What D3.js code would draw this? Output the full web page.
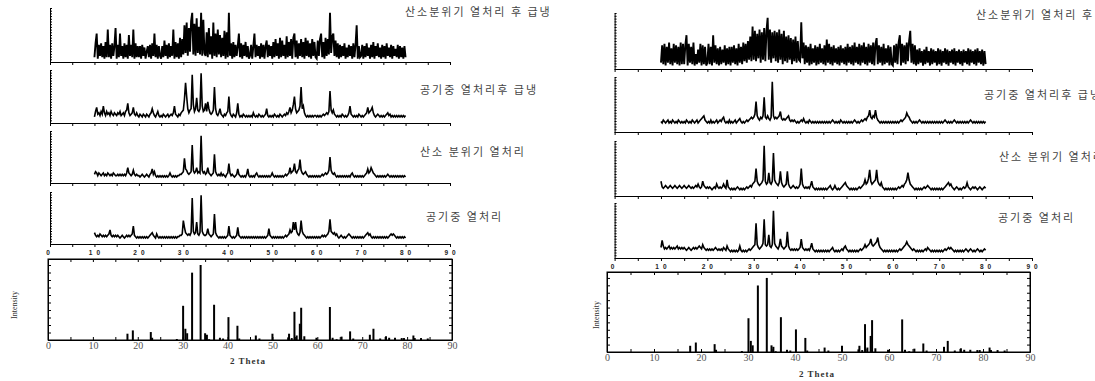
<!DOCTYPE html>
<html>
<head>
<meta charset="utf-8">
<script src="https://d3js.org/d3.v7.min.js"></script>
<style>
  body { margin: 0; background: #fff; }
  svg { display: block; }
</style>
</head>
<body>
<svg id="chart" width="1095" height="381"></svg>
<script>
// ---- data ----------------------------------------------------------------
// each pattern is a run of intensity levels (base-36 chars, 0..35),
// one char per 0.25 deg of 2-theta from 10 to 80
const thetaRange = [10, 80];

const leftO2Quench = [
  "2cj1b3c2a1d2m2b1c3an", "1b2j3a1c2b1i3b2m1c2a", "2a1b3916a2b1c3j2b1a3",
  "1a2e3b1c2a3m1d2c1g2f", "4p5r3n6sy4q3u5o4y3t5", "3k2n4h1r3j2m4i2g3l1k",
  "2y3c1d2b3aj2c1b3d2a1", "3b1aj2b3a1c2b1ae2b3a", "1d2f3c1g2e3b1h2d3f1g",
  "j2e1c3f2d1g3e2c1f3d2", "1e3fj2d1g3f4y5hj3e2c", "1b2a3c192b3a1c2bp1a2",
  "3b1a2c391b2d1a3c291b", "2a1c392b1a382b1a291a2"
];
const leftAirQuench = [
  "37a56475b64756475465", "4657456478d6456a5464", "35435435435696435743",
  "435434534546b5435467", "8gsi9689yc79h879zb78", "d7e96568p95469543546",
  "7i6435436d5343543434", "34364343543434594343", "4354343543454657a68c",
  "i9678bp9b64343434344", "343434545657m8685434", "3435434346b543434354",
  "343456a678a643454343", "434564534343434343434"
];
const leftO2Anneal = [
  "57646545645465454654", "4545454546a654585454", "43454345435695743434",
  "34343434643434344556", "7h986567r867a676y867", "56a65456k75454645435",
  "6d645434595434343594", "34343564343434343434", "6434343434345456a678",
  "d7689g86567543434343", "434345456568i8656434", "34343434343564343434",
  "343456967a8654343434", "343454343434343434343"
];
const leftAirAnneal = [
  "75454654545456954545", "454345434545456c5434", "34343434345675436434",
  "34343434343434344556", "gb765657x867f657z865", "56a65456l75434343434",
  "5c5434345b5434343434", "34343434343434345a54", "3434343434345456978f",
  "9f8657g8654343434343", "434345454568h8767564", "34543434565434343434",
  "34345675643434343434", "343434565654343434343"
];

const rightO2Quench = [
  "3f2g1e3h2d1g3f2e1h2g", "2fm1g3e2h192c3g1f2e1", "3g2e1m3f2d1e2c3f1d2e",
  "1e3f2d1g3e2h4g3i5l4s", "5p4n6q3o5r4py5q3o6p4", "o3q5n2p4l3m5k2j4l3i5",
  "4v6h2f3e1g2d3f1e2g3d", "2f1j3g2e1f3d2e1f3d2e", "1g3e2f1h3e2g1f3h2e1g",
  "3f2h1gk2f3e1g2d3f1e2", "1f3g2hm1g3f2h4ip3g2f", "1c2d3b1c2e3b1d2c3b1d",
  "2c1b3d2c1b3c2d1b3c2b", "1c3b2d1c3b2c1d3b2c1b2"
];
const rightAirQuench = [
  "65765675657656576565", "65765657656756789a76", "56575656756768965657",
  "56567567865656767898", "9bka8798an98a879ya89", "89ad878789a767676565",
  "67686565765656565656", "56565656765656576565", "6565656765656767879a",
  "e98a9e97656565656565", "656565676789ca976565", "65676565656565656565",
  "65656765656567656565", "656565676565656565656"
];
const rightO2Anneal = [
  "95456545654565456545", "65456545456575459654", "54543454754545754a54",
  "34343454343434545657", "89i97678ay978f879ta8", "768g86567g7545654545",
  "7i754545469543434343", "43434564346434345678", "6543434343454567a78b",
  "h9789ah9768543434343", "434345456578afa76543", "43434345456543434343",
  "43434567867543454343", "454585434545434543454"
];
const rightAirAnneal = [
  "6b756567565656756565", "65456545656567658654", "54545456545454654754",
  "34343434743434345456", "78n865679q878f768w97", "657c76567h7545454545",
  "6c654545469543434343", "43434345643434345467", "54343434343454568678",
  "9c8789ad865434343434", "343434545678a8765454", "34343434546543434343",
  "43434545656543434343", "434543454343454343454"
];

const sampleNames = ["산소분위기 열처리 후 급냉", "공기중 열처리후 급냉", "산소 분위기 열처리", "공기중 열처리"];

// reference card: 2-theta and relative intensity
const refTheta = [17.7, 18.9, 22.9, 23.2, 28.7, 30.1, 30.6, 31.0, 32.1, 34.0, 35.0, 35.4, 35.9,
  37.0, 38.3, 39.0, 40.2, 42.2, 42.6, 46.3, 47.1, 50.0, 53.5, 53.7, 54.3, 54.9, 55.4, 56.1,
  56.4, 57.1, 59.8, 62.8, 63.4, 64.3, 65.4, 67.3, 68.0, 71.7, 72.5, 74.0, 75.3, 76.0, 77.3,
  78.8, 79.3, 81.4, 81.7, 83.1, 84.6];
const refIntensity = [8.4, 12.8, 10.6, 3, 1.3, 45.6, 15, 9, 89.8, 100, 9, 7, 1,
  47, 3, 2, 30.5, 19, 2, 6, 2, 8.4, 3.5, 8.4, 2.6, 37.6, 6, 21.7,
  43, 5, 3, 44, 3, 1, 4.5, 11.5, 2, 7, 15, 2, 5, 3, 3,
  2.6, 2.6, 6, 2.6, 2.6, 2];

const xTickLabels = [0, 10, 20, 30, 40, 50, 60, 70, 80, 90];
const xMinorTicks = [0, 5, 10, 15, 20, 25, 30, 35, 40, 45, 50, 55, 60, 65, 70, 75, 80, 85, 90];
const refYTicks = [0, 10, 20, 30, 40, 50, 60, 70, 80, 90, 100];

// ---- layout --------------------------------------------------------------
const figures = [
  {
    traces: [leftO2Quench, leftAirQuench, leftO2Anneal, leftAirAnneal],
    x0: 50, x1: 450,
    axisY: [62, 123, 183, 244], topY: [8, 70, 131, 192],
    labelX: [405, 420, 420, 426], labelY: [16, 94, 156, 221],
    tickLabelY: 255,
    box: { x0: 48, x1: 452, y0: 259, y1: 340 },
    thetaX: 248, thetaY: 364, intX: 17, intY: 305
  },
  {
    traces: [rightO2Quench, rightAirQuench, rightO2Anneal, rightAirAnneal],
    x0: 614.6, x1: 1032,
    axisY: [69, 132, 196, 258], topY: [13, 77, 141, 203],
    labelX: [976, 984, 999, 998], labelY: [19, 99, 161, 222],
    tickLabelY: 269,
    box: { x0: 607, x1: 1030, y0: 272, y1: 352 },
    thetaX: 817, thetaY: 377, intX: 599, intY: 315
  }
];

const svg = d3.select("#chart");

function decode(segs) {
  const s = segs.join("");
  const n = s.length;
  return Array.from(s, (c, i) => ({
    t: thetaRange[0] + i * (thetaRange[1] - thetaRange[0]) / (n - 1),
    v: parseInt(c, 36)
  }));
}

function drawFigure(f) {
  const g = svg.append("g");
  const x = d3.scaleLinear().domain([0, 90]).range([f.x0, f.x1]);

  f.traces.forEach((tr, i) => {
    const y = d3.scaleLinear().domain([0, 36]).range([f.axisY[i] - 2, f.topY[i] + 2]);
    const yAx = d3.scaleLinear().domain([0, 20]).range([f.axisY[i], f.topY[i]]);

    // x axis
    const xa = g.append("g")
      .attr("transform", `translate(0,${f.axisY[i]})`)
      .call(d3.axisBottom(x).tickValues(xMinorTicks).tickSize(3).tickSizeOuter(0).tickFormat(""));
    xa.selectAll("line, path").attr("stroke", "#000").attr("stroke-width", 1);

    // y axis with dense minor ticks
    const ya = g.append("g")
      .attr("transform", `translate(${f.x0},0)`)
      .call(d3.axisRight(yAx).ticks(20).tickSize(2).tickSizeOuter(0).tickFormat(""));
    ya.selectAll("line, path").attr("stroke", "#000").attr("stroke-width", 1);

    const line = d3.line().x(d => x(d.t)).y(d => y(d.v));
    g.append("path")
      .datum(decode(tr))
      .attr("d", line)
      .attr("fill", "none")
      .attr("stroke", "#000")
      .attr("stroke-width", i === 0 ? 1.9 : 1.6)
      .attr("stroke-linejoin", "miter");

    g.append("text")
      .attr("x", f.labelX[i])
      .attr("y", f.labelY[i])
      .attr("font-family", "'Noto Sans CJK KR', sans-serif")
      .attr("font-size", 11)
      .attr("letter-spacing", 2)
      .attr("fill", "#444")
      .text(sampleNames[i]);
  });

  // spaced tick labels under the last stacked pattern
  g.selectAll(".stkLbl")
    .data(xTickLabels)
    .join("text")
    .attr("x", d => x(d))
    .attr("y", f.tickLabelY)
    .attr("dx", d => d === 0 ? 0 : 2)
    .attr("text-anchor", "middle")
    .attr("font-family", "'Liberation Sans', Arial, sans-serif")
    .attr("font-weight", "bold")
    .attr("font-size", 6.5)
    .attr("letter-spacing", 4)
    .attr("fill", "#222")
    .text(d => String(d));

  // reference stick pattern
  const b = f.box;
  const xb = d3.scaleLinear().domain([0, 90]).range([b.x0, b.x1]);
  const yb = d3.scaleLinear().domain([0, 108]).range([b.y1, b.y0]);

  g.append("g")
    .selectAll("line")
    .data(refTheta.map((t, i) => ({ t, v: refIntensity[i] })))
    .join("line")
    .attr("x1", d => xb(d.t)).attr("x2", d => xb(d.t))
    .attr("y1", yb(0)).attr("y2", d => yb(d.v))
    .attr("stroke", "#000").attr("stroke-width", 2);

  const bot = g.append("g").attr("transform", `translate(0,${b.y1})`)
    .call(d3.axisBottom(xb).tickValues(xMinorTicks).tickSize(-3).tickSizeOuter(0)
      .tickFormat(d => xTickLabels.includes(d) ? d : ""));
  const top = g.append("g").attr("transform", `translate(0,${b.y0})`)
    .call(d3.axisTop(xb).tickValues(xMinorTicks).tickSize(-3).tickSizeOuter(0).tickFormat(""));
  const lft = g.append("g").attr("transform", `translate(${b.x0},0)`)
    .call(d3.axisRight(yb).tickValues(refYTicks).tickSize(3).tickSizeOuter(0).tickFormat(""));
  const rgt = g.append("g").attr("transform", `translate(${b.x1},0)`)
    .call(d3.axisLeft(yb).tickValues(refYTicks).tickSize(3).tickSizeOuter(0).tickFormat(""));
  [bot, top, lft, rgt].forEach(a => a.selectAll("line, path").attr("stroke", "#000").attr("stroke-width", 1));

  g.append("rect")
    .attr("x", b.x0).attr("y", b.y0)
    .attr("width", b.x1 - b.x0).attr("height", b.y1 - b.y0)
    .attr("fill", "none").attr("stroke", "#000").attr("stroke-width", 1);

  bot.selectAll("text")
    .attr("font-family", "'Liberation Serif', 'Times New Roman', serif")
    .attr("font-size", 10)
    .attr("fill", "#555")
    .attr("dy", "0.6em");

  g.append("text")
    .attr("x", f.thetaX).attr("y", f.thetaY)
    .attr("text-anchor", "middle")
    .attr("font-family", "'Liberation Serif', 'Times New Roman', serif")
    .attr("font-weight", "bold")
    .attr("font-size", 9)
    .attr("letter-spacing", 1)
    .attr("fill", "#333")
    .text("2 Theta");

  g.append("text")
    .attr("transform", `translate(${f.intX},${f.intY}) rotate(-90)`)
    .attr("text-anchor", "middle")
    .attr("font-family", "'Liberation Serif', 'Times New Roman', serif")
    .attr("font-size", 8)
    .attr("fill", "#333")
    .text("Intensity");
}

figures.forEach(drawFigure);
</script>
</body>
</html>
